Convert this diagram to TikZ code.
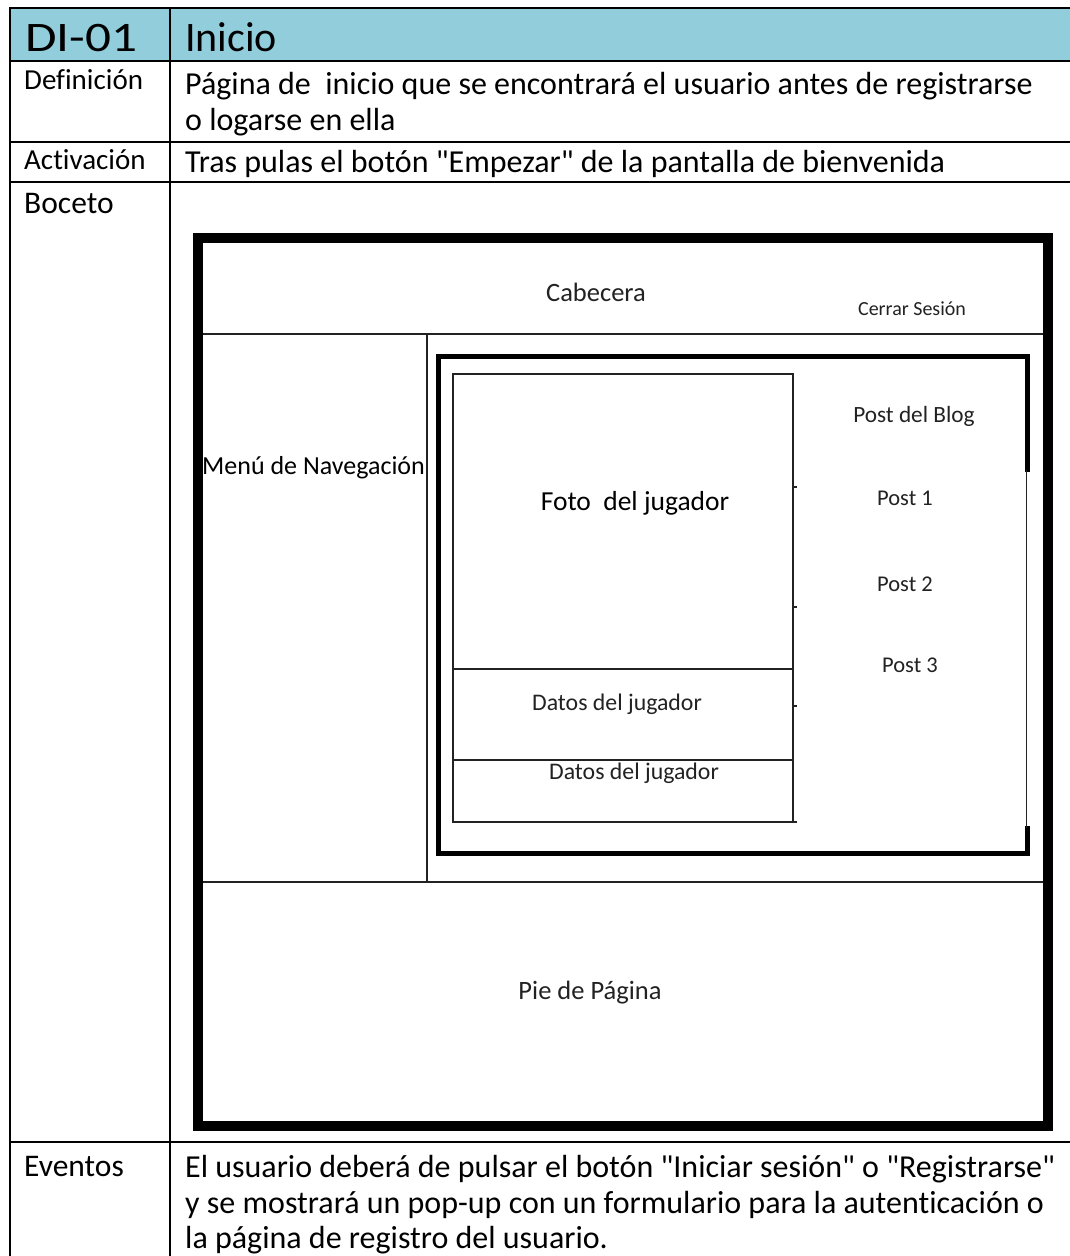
\documentclass[tikz,border=0pt]{standalone}
\usepackage{fontspec}
\setmainfont{Carlito}[Ligatures={TeXOff,NoCommon}]
\definecolor{headblue}{RGB}{146,205,220}
\definecolor{inkgray}{RGB}{34,34,34}
\begin{document}
\begin{tikzpicture}[x=1pt,y=-1pt,
  rule/.style={line width=2.2pt,black},
  thinline/.style={line width=1.6pt,inkgray},
  heavyframe/.style={line width=10pt,black},
  innerframe/.style={line width=5pt,black},
  lbl/.style={anchor=base west,inner sep=0pt,font=\fontsize{29}{33}\selectfont},
  biglbl/.style={anchor=base west,inner sep=0pt,font=\fontsize{31.5}{36}\selectfont},
  cell/.style={anchor=base west,inner sep=0pt,font=\fontsize{32}{36}\selectfont},
  title/.style={anchor=base west,inner sep=0pt,font=\fontsize{42}{46}\selectfont},
  sk/.style={inner sep=0pt,text=inkgray},
]
\useasboundingbox (0,0) rectangle (1070,1256);
\fill[white] (0,0) rectangle (1070,1256);

% ---------- table ----------
\fill[headblue] (10,8) rectangle (1070,61);
\draw[rule] (1070,8) -- (10,8) -- (10,1256);
\draw[rule] (170,8) -- (170,1256);
\foreach \yy in {61,142,182,1142} \draw[rule] (10,\yy) -- (1070,\yy);

\node[title,xscale=1.22] (code) at (25,51) {DI-01};
\node[title] (name) at (185,51) {Inicio};

\node[lbl] (defl) at (24,89) {Definición};
\node[cell] (def1) at (185,94) {Página de \ inicio que se encontrará el usuario antes de registrarse};
\node[cell] (def2) at (185,130) {o logarse en ella};

\node[lbl] (actl) at (24,169) {Activación};
\node[cell] (act) at (185,172) {Tras pulas el botón "Empezar" de la pantalla de bienvenida};

\node[biglbl] (bocl) at (24,213) {Boceto};

\node[biglbl] (evl) at (24,1176) {Eventos};
\node[cell] (ev1) at (185,1177) {El usuario deberá de pulsar el botón "Iniciar sesión" o "Registrarse"};
\node[cell] (ev2) at (185,1213) {y se mostrará un pop-up con un formulario para la autenticación o};
\node[cell] (ev3) at (185,1248) {la página de registro del usuario.};

% ---------- sketch ----------
\draw[heavyframe] (198,237.5) rectangle (1048,1125.5);
\draw[thinline] (203,334) -- (1043,334);
\draw[thinline] (203,882) -- (1043,882);
\draw[thinline] (427,334) -- (427,882);

% content frame, its right side drawn in three pieces
\draw[innerframe] (1027,472) -- (1027,356) -- (438,356) -- (438,853) -- (1027,853) -- (1027,826);
\draw[thinline] (1026.5,470) -- (1026.5,828);

% player box
\draw[thinline] (793,822) -- (453,822) -- (453,374) -- (793,374) -- (793,822);
\draw[thinline] (453,669) -- (793,669);
\draw[thinline] (453,760) -- (793,760);
\foreach \yy in {487,607,706,822} \draw[thinline] (793,\yy) -- (797,\yy);

\node[sk,font=\fontsize{26.5}{30}\selectfont] (head) at (596,292) {Cabecera};
\node[sk,font=\fontsize{20}{24}\selectfont] (logout) at (912,309) {Cerrar Sesión};
\node[sk,anchor=west,font=\fontsize{26}{30}\selectfont,text=black] (nav) at (202,468) {Menú de Navegación};
\node[sk,font=\fontsize{27.5}{30}\selectfont,text=black] (photo) at (635,503) {Foto \ del jugador};
\node[sk,font=\fontsize{23.3}{26}\selectfont] (blog) at (914,416) {Post del Blog};
\node[sk,font=\fontsize{22.5}{26}\selectfont] (p1) at (905,498) {Post 1};
\node[sk,font=\fontsize{22.5}{26}\selectfont] (p2) at (905,584) {Post 2};
\node[sk,font=\fontsize{22.5}{26}\selectfont] (p3) at (910,665) {Post 3};
\node[sk,font=\fontsize{23.8}{26}\selectfont] (data1) at (617,704) {Datos del jugador};
\node[sk,font=\fontsize{23.8}{26}\selectfont] (data2) at (634,773) {Datos del jugador};
\node[sk,font=\fontsize{26.5}{30}\selectfont] (foot) at (590,993) {Pie de Página};
\end{tikzpicture}
\end{document}
